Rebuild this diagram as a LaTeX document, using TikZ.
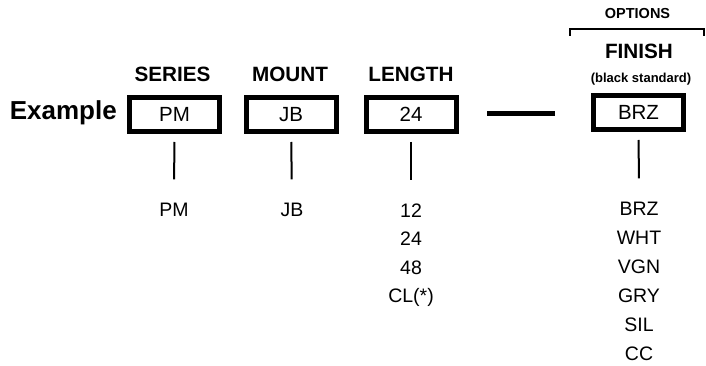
\documentclass[tikz,border=0pt]{standalone}
\usepackage{fontspec}
\setmainfont{Liberation Sans}
\usetikzlibrary{positioning}

\begin{document}
\begin{tikzpicture}[x=1pt,y=-1pt,
  codebox/.style={draw,line width=5pt,minimum width=90pt,minimum height=34pt,
    inner sep=0pt,font=\fontsize{20.5}{24}\selectfont},
  head/.style={anchor=base,inner sep=0pt,font=\fontsize{20.7}{24}\selectfont\bfseries},
  choice/.style={inner sep=0pt,text height=14pt,text depth=0pt,
    font=\fontsize{19.5}{23}\selectfont},
  stem/.style={line width=2pt,shorten <=8pt,shorten >=23pt}]
\useasboundingbox (0,0) rectangle (706,366);
%Boxes
\node[codebox] (pm) at (174.5,114.5) {PM};
\node[codebox] (jb) at (291,114.5) {JB};
\node[codebox] (len) at (411,114.5) {24};
\node[codebox] (fin) at (638.5,112.5) {BRZ};
\node[anchor=east,inner sep=0pt,font=\fontsize{26}{30}\selectfont\bfseries]
  (ex) at (117,113) {Example};
%Headings
\node[head] (series) at (172.5,81.5) {SERIES};
\node[head] (mount) at (290,81.5) {MOUNT};
\node[head] (length) at (411,81.5) {LENGTH};
\node[head] (finish) at (639,58.5) {FINISH};
\node[anchor=base,inner sep=0pt,font=\fontsize{13}{15}\selectfont\bfseries]
  (black) at (641,83) {(black standard)};
%Options
\node[anchor=base,inner sep=0pt,font=\fontsize{14.5}{17}\selectfont\bfseries]
  (options) at (637.5,18.5) {OPTIONS};
\draw[line width=2pt] (570,36) |- (704,29) -- (704,36);
%Dash
\coordinate (dashl) at (487,114);
\coordinate (dashr) at (555,114);
\draw[line width=5pt] (dashl) -- (dashr);
%Series
\node[choice] (pmv) at (174,209.5) {PM};
\draw[stem] (pm) -- (pmv);
%Mount
\node[choice] (jbv) at (292,209.5) {JB};
\draw[stem] (jb) -- (jbv);
%Length
\node[choice] (l12) at (411,210) {12};
\node[choice] (l24) at (411,238.5) {24};
\node[choice] (l48) at (411,267) {48};
\node[choice] (lcl) at (411,295.5) {CL(*)};
\draw[stem] (len) -- (l12);
%Finish
\node[choice] (brz) at (639,208.5) {BRZ};
\node[choice] (wht) at (639,237.5) {WHT};
\node[choice] (vgn) at (639,266.5) {VGN};
\node[choice] (gry) at (639,295.5) {GRY};
\node[choice] (sil) at (639,324.5) {SIL};
\node[choice] (cc) at (639,353) {CC};
\draw[stem] (fin) -- (brz);
\end{tikzpicture}
\end{document}
